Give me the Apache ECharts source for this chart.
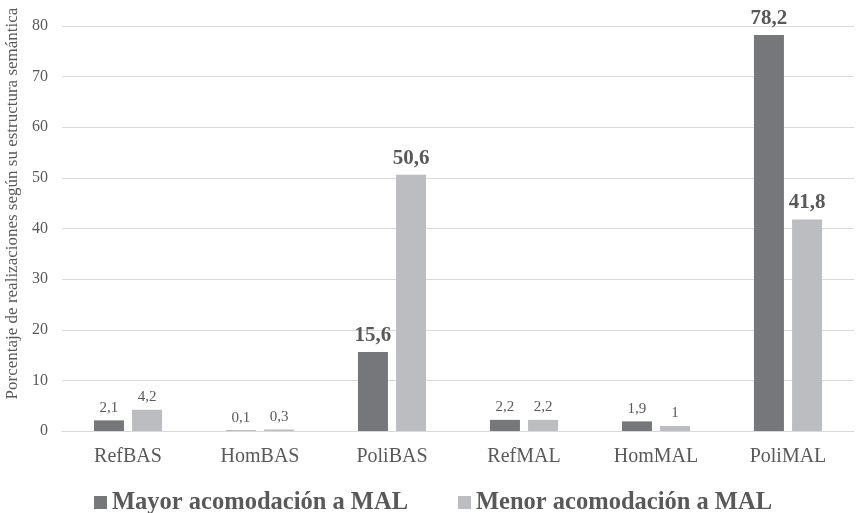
<!DOCTYPE html>
<html>
<head>
<meta charset="utf-8">
<script src="https://cdn.jsdelivr.net/npm/echarts@6/dist/echarts.min.js"></script>
<style>html,body{margin:0;padding:0;background:#fff}#c{width:857px;height:513px}</style>
</head>
<body>
<div id="c"></div>
<script>
var categories = ['RefBAS', 'HomBAS', 'PoliBAS', 'RefMAL', 'HomMAL', 'PoliMAL'];
var mayor = [2.1, 0.1, 15.6, 2.2, 1.9, 78.2];
var menor = [4.2, 0.3, 50.6, 2.2, 1, 41.8];
var seriesNames = ['Mayor acomodación a MAL', 'Menor acomodación a MAL'];
var yTicks = [0, 10, 20, 30, 40, 50, 60, 70, 80];

var FONT = "'Liberation Serif', 'Times New Roman', serif";
var TXT = '#595959';

function fmt(p) {
  var s = String(p.value).replace('.', ',');
  return p.value > 10 ? '{b|' + s + '}' : '{n|' + s + '}';
}
var labelCfg = {
  show: true, position: 'top', distance: 4, formatter: fmt,
  rich: {
    b: { fontFamily: FONT, fontSize: 21, fontWeight: 'bold', color: TXT, padding: [0, 0, 2, 0] },
    n: { fontFamily: FONT, fontSize: 15, color: TXT, padding: [0, 0, 1, 0] }
  }
};

var chart = echarts.init(document.getElementById('c'), null, { renderer: 'canvas' });
chart.setOption({
  animation: false,
  backgroundColor: '#fff',
  textStyle: { fontFamily: FONT },
  grid: { left: 62, right: 3, top: 26, bottom: 82, containLabel: false, outerBoundsMode: 'none' },
  legend: {
    top: 485, left: 89, icon: 'rect', itemWidth: 13, itemHeight: 13, itemGap: 50,
    textStyle: { fontFamily: FONT, fontSize: 24.5, fontWeight: 'bold', color: TXT },
    data: seriesNames
  },
  xAxis: {
    type: 'category', data: categories,
    axisLine: { lineStyle: { color: '#d9d9d9' } },
    axisTick: { show: false },
    axisLabel: { fontFamily: FONT, fontSize: 20, color: TXT, margin: 16 }
  },
  yAxis: {
    type: 'value', min: yTicks[0], max: yTicks[yTicks.length - 1], interval: 10,
    name: 'Porcentaje de realizaciones según su estructura semántica',
    nameLocation: 'middle', nameGap: 41,
    nameTextStyle: { fontFamily: FONT, fontSize: 17, color: TXT, padding: [0, 0, 0, 50] },
    axisLine: { show: false }, axisTick: { show: false },
    axisLabel: { fontFamily: FONT, fontSize: 16, color: TXT, margin: 14 },
    splitLine: { lineStyle: { color: '#d9d9d9' } }
  },
  series: [
    { name: seriesNames[0], type: 'bar', data: mayor, barWidth: 30, barGap: '27%',
      itemStyle: { color: '#76777b' }, label: labelCfg },
    { name: seriesNames[1], type: 'bar', data: menor, barWidth: 30, barGap: '27%',
      itemStyle: { color: '#bcbdc0' }, label: labelCfg }
  ]
});
</script>
</body>
</html>
